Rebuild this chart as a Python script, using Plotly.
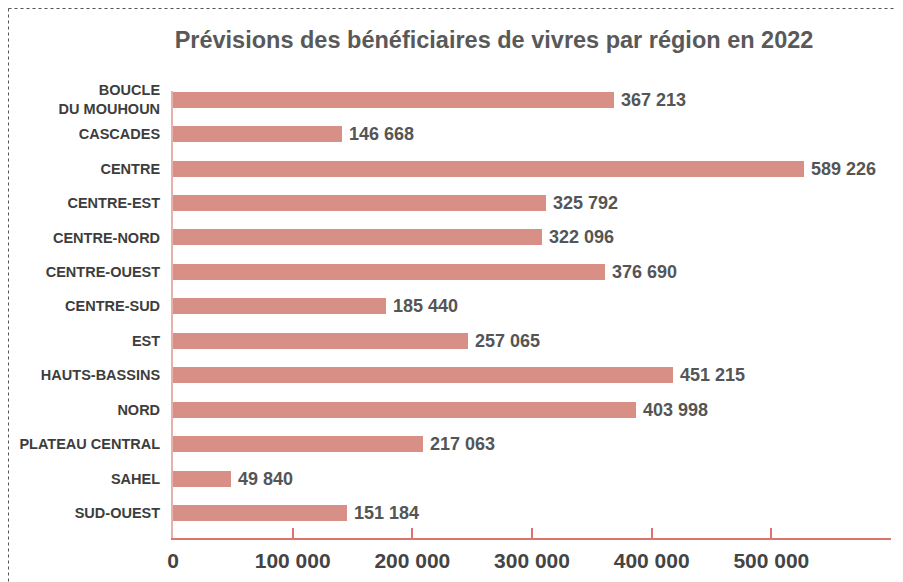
import plotly.graph_objects as go

# ---- data ----
regions = ["BOUCLE<br>DU MOUHOUN", "CASCADES", "CENTRE", "CENTRE-EST", "CENTRE-NORD",
           "CENTRE-OUEST", "CENTRE-SUD", "EST", "HAUTS-BASSINS", "NORD",
           "PLATEAU CENTRAL", "SAHEL", "SUD-OUEST"]
# printed figures
beneficiaries = [367213, 146668, 589226, 325792, 322096, 376690, 185440,
                 257065, 451215, 403998, 217063, 49840, 151184]
# bar lengths as drawn in the reference
bar_lengths = [368700, 141400, 527400, 311900, 308500, 361200, 178200,
               246700, 417900, 387200, 208500, 48700, 145600]
tick_values = [0, 100000, 200000, 300000, 400000, 500000]
tick_labels = ["0", "100 000", "200 000", "300 000", "400 000", "500 000"]
title_text = "Prévisions des bénéficiaires de vivres par région en 2022"

# ---- style ----
PAGE_W, PAGE_H = 903, 582
OFF = 8  # the page body margin offsets the figure by 8 px
W, H = PAGE_W - OFF, PAGE_H - OFF
# plot area in page pixels: x 173..891, y 91..538
PL, PR, PT, PB = 173, 891, 91, 538
ML, MR, MT, MB = PL - OFF, W - (PR - OFF), PT - OFF, H - (PB - OFF)
FONT = "Liberation Sans, Arial, sans-serif"
BAR = "#d78f86"
AXIS = "#d9756a"
YLINE = "#e6b1aa"

def fmt(v):
    return f"{v:,}".replace(",", " ")

def px_x(p):  # page pixel -> paper
    return (p - PL) / (PR - PL)

def px_y(p):
    return (PB - p) / (PB - PT)

fig = go.Figure()
fig.add_trace(go.Bar(
    y=regions, x=bar_lengths, orientation="h",
    marker=dict(color=BAR, line=dict(width=0)),
    width=0.465, hoverinfo="skip",
))

for r, v, b in zip(regions, beneficiaries, bar_lengths):
    fig.add_annotation(x=b, y=r, text=fmt(v), showarrow=False,
                       xanchor="left", yanchor="middle", xshift=5,
                       font=dict(family=FONT, size=18, color="#555555", weight="bold"))

fig.update_layout(
    width=W, height=H,
    margin=dict(l=ML, r=MR, t=MT, b=MB),
    paper_bgcolor="white", plot_bgcolor="white",
    showlegend=False, bargap=0,
    title=dict(text=title_text, x=px_x(494), xref="paper", xanchor="center",
               y=1 - (40 - OFF) / H, yanchor="middle",
               font=dict(family=FONT, size=23.5, color="#595959", weight="bold")),
    xaxis=dict(range=[0, 600000], tickvals=tick_values, ticktext=tick_labels,
               automargin=False,
               showgrid=False, zeroline=False, showline=True, linecolor=AXIS,
               linewidth=2, ticks="inside", ticklen=10, tickcolor=AXIS, tickwidth=1.5,
               ticklabelstandoff=3,
               tickfont=dict(family=FONT, size=21, color="#444444", weight="bold")),
    yaxis=dict(range=[12.726, -0.253], showgrid=False, zeroline=False,
               automargin=False,
               showline=True, linecolor=YLINE, linewidth=2, ticks="",
               ticklabelstandoff=8,
               tickfont=dict(family=FONT, size=14.5, color="#3d3d3d", weight="bold")),
    shapes=[
        dict(type="line", xref="paper", yref="paper",
             x0=px_x(8.5), x1=px_x(903), y0=px_y(8.5), y1=px_y(8.5),
             line=dict(color="#555555", width=1, dash="dot")),
        dict(type="line", xref="paper", yref="paper",
             x0=px_x(8.5), x1=px_x(8.5), y0=px_y(8.5), y1=px_y(582),
             line=dict(color="#555555", width=1, dash="dot")),
    ],
)

fig.write_html("out.html")
